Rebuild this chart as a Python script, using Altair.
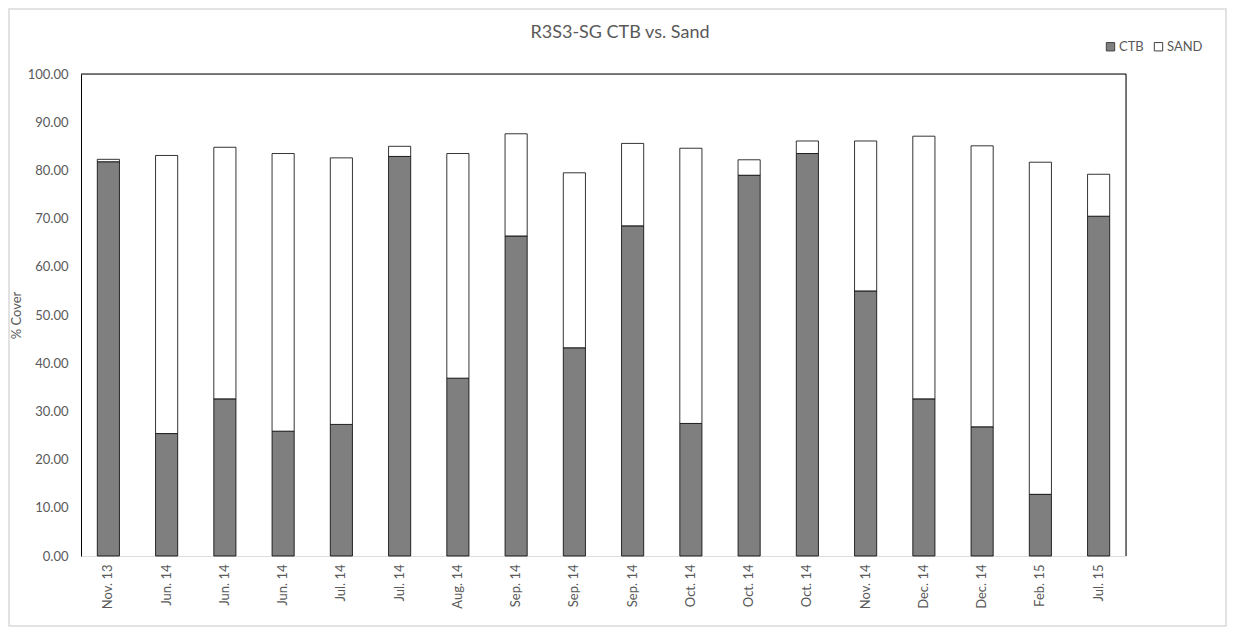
import altair as alt
import pandas as pd

labels = ["Nov. 13", "Jun. 14", "Jun. 14", "Jun. 14", "Jul. 14", "Jul. 14", "Aug. 14",
          "Sep. 14", "Sep. 14", "Sep. 14", "Oct. 14", "Oct. 14", "Oct. 14", "Nov. 14",
          "Dec. 14", "Dec. 14", "Feb. 15", "Jul. 15"]
ctb = [81.8, 25.4, 32.6, 25.9, 27.3, 82.9, 36.9, 66.4, 43.2, 68.5, 27.5, 79.0, 83.5,
       55.0, 32.6, 26.8, 12.8, 70.5]
sand = [0.5, 57.7, 52.2, 57.6, 55.3, 2.1, 46.6, 21.2, 36.3, 17.1, 57.1, 3.2, 2.6,
        31.1, 54.5, 58.3, 68.9, 8.7]
series = ["CTB", "SAND"]
colors = ["#7f7f7f", "#ffffff"]
y_ticks = [0, 10, 20, 30, 40, 50, 60, 70, 80, 90, 100]
chart_title = "R3S3-SG CTB vs. Sand"

rows = []
for i, lab in enumerate(labels):
    key = f"{i:02d}|{lab}"
    rows.append({"key": key, "series": "CTB", "value": ctb[i], "ord": 0})
    rows.append({"key": key, "series": "SAND", "value": sand[i], "ord": 1})
df = pd.DataFrame(rows)
keys = [f"{i:02d}|{lab}" for i, lab in enumerate(labels)]

W, H = 1045, 482
FONT = "Lato"
GREY = "#595959"

bars = alt.Chart(df).mark_bar(stroke="#000000", strokeWidth=0.8).encode(
    x=alt.X("key:N", sort=keys, title=None,
            scale=alt.Scale(paddingInner=0.62, paddingOuter=0.28),
            axis=alt.Axis(labelExpr="split(datum.label, '|')[1]", labelAngle=-90,
                          labelPadding=8, ticks=False, domain=False,
                          labelFontSize=13, labelColor=GREY, labelFont=FONT)),
    y=alt.Y("value:Q", stack="zero", title="% Cover",
            scale=alt.Scale(domain=[0, 100], nice=False),
            axis=alt.Axis(values=y_ticks, format=".2f", grid=False, ticks=False,
                          domain=True, domainColor="#000000", domainWidth=1,
                          labelPadding=13, labelFontSize=13, labelColor=GREY,
                          labelFont=FONT, titleFont=FONT, titleFontSize=13,
                          titleFontWeight="normal", titleColor=GREY, titlePadding=4)),
    color=alt.Color("series:N", scale=alt.Scale(domain=series, range=colors),
                    legend=alt.Legend(title=None, orient="none", direction="horizontal",
                                      legendX=1023, legendY=-34, symbolType="square",
                                      symbolSize=70, symbolStrokeColor="#404040",
                                      symbolStrokeWidth=1, labelFontSize=13,
                                      labelColor=GREY, labelFont=FONT,
                                      columnPadding=8, symbolOffset=0, labelOffset=2)),
    order=alt.Order("ord:Q"),
)

frame_df = pd.DataFrame({"a": [0]})
top_line = alt.Chart(frame_df).mark_rule(color="#000000", strokeWidth=1).encode(
    x=alt.value(0), x2=alt.value(W), y=alt.value(0))
right_line = alt.Chart(frame_df).mark_rule(color="#000000", strokeWidth=1).encode(
    x=alt.value(W), y=alt.value(0), y2=alt.value(H))
outer = alt.Chart(frame_df).mark_rect(fill=None, stroke="#d9d9d9", strokeWidth=1.5,
                                      clip=False).encode(
    x=alt.value(-72), x2=alt.value(W + 100), y=alt.value(-65), y2=alt.value(H + 70))
title_text = alt.Chart(frame_df).mark_text(font=FONT, fontSize=18, color=GREY,
                                           align="center", baseline="middle").encode(
    x=alt.value(539), y=alt.value(-41), text=alt.value(chart_title))

chart = alt.layer(outer, bars, top_line, right_line, title_text).properties(
    width=W, height=H,
    autosize=alt.AutoSizeParams(type="none"),
    padding={"left": 73, "top": 66, "right": 101, "bottom": 71},
).configure_view(stroke=None).configure(background="#ffffff")

chart.save("out.html", embed_options={"renderer": "svg", "actions": False})
